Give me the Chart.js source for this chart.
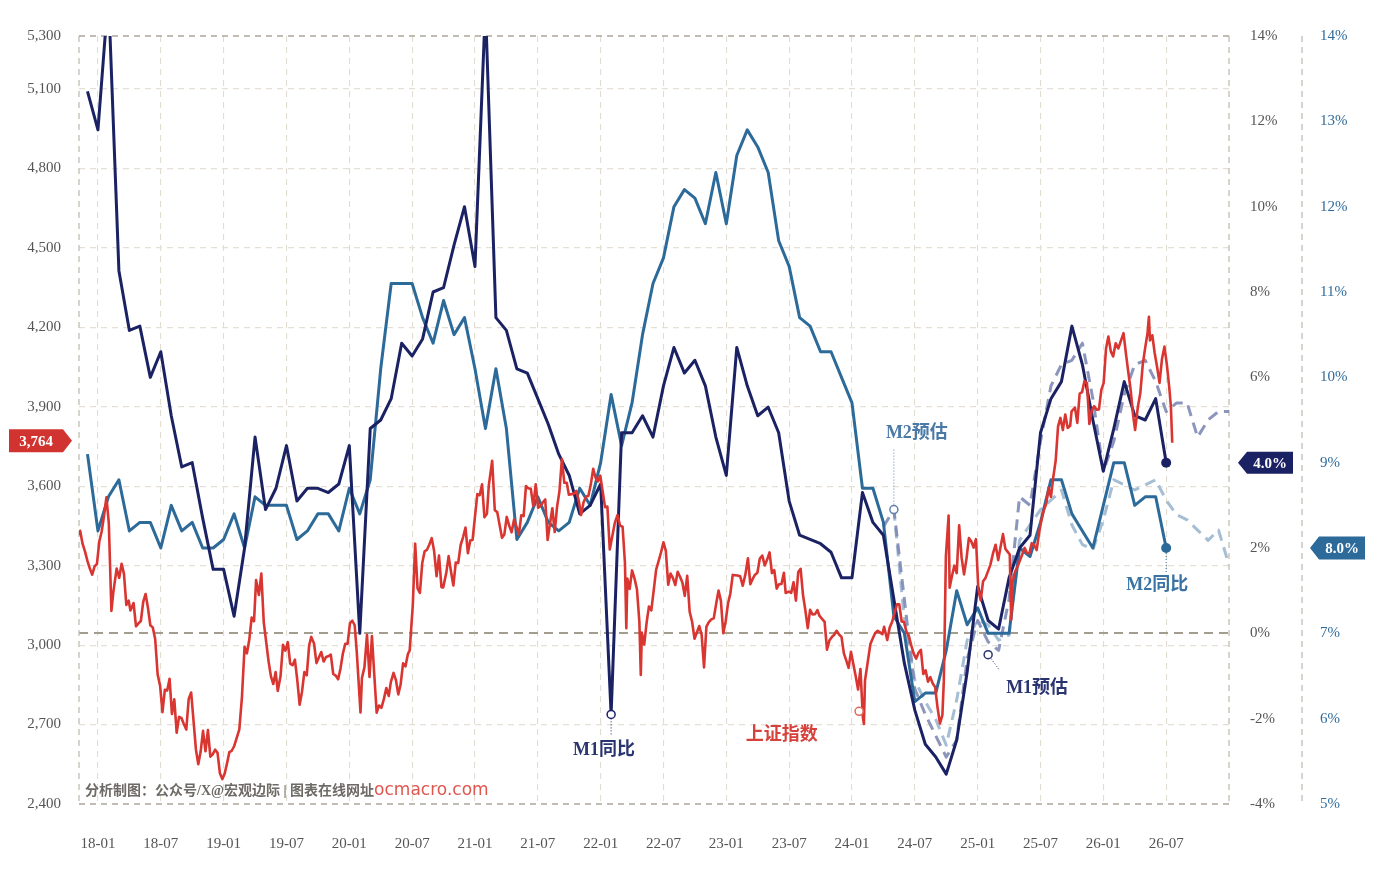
<!DOCTYPE html>
<html lang="zh">
<head>
<meta charset="UTF-8">
<title>M1、M2同比与上证指数</title>
<script src="https://cdn.jsdelivr.net/npm/chart.js"></script>
<style>
  body { margin: 0; background: #fff; }
  .wrap { position: relative; width: 1398px; height: 870px; }
</style>
</head>
<body>
<div class="wrap"><canvas id="chart" width="1398" height="870"></canvas></div>
<script>
// 月度数据为月末值，画在下个月初的位置
const mStart = '2017-11';
const m1Yoy = [
  12.7, 11.8,
  15.0, 8.5, 7.1, 7.2, 6.0, 6.6, 5.1, 3.9, 4.0, 2.7, 1.5, 1.5,
  0.4, 2.0, 4.6, 2.9, 3.4, 4.4, 3.1, 3.4, 3.4, 3.3, 3.5, 4.4,
  0.0, 4.8, 5.0, 5.5, 6.8, 6.5, 6.9, 8.0, 8.1, 9.1, 10.0, 8.6,
  14.7, 7.4, 7.1, 6.2, 6.1, 5.5, 4.9, 4.2, 3.7, 2.8, 3.0, 3.5,
  -1.9, 4.7, 4.7, 5.1, 4.6, 5.8, 6.7, 6.1, 6.4, 5.8, 4.6, 3.7,
  6.7, 5.8, 5.1, 5.3, 4.7, 3.1, 2.3, 2.2, 2.1, 1.9, 1.3, 1.3,
  3.3, 2.6, 2.3, 0.8, -0.7, -1.8, -2.6, -2.9, -3.3, -2.5, -0.9, 1.1,
  0.3, 0.1, 1.3, 2.0, 2.3, 4.7, 5.5, 5.9, 7.2, 6.3, 5.0, 3.8,
  4.8, 5.9, 5.1, 5.0, 5.5, 4.0
];
const m2Yoy = [
  9.1, 8.2,
  8.6, 8.8, 8.2, 8.3, 8.3, 8.0, 8.5, 8.2, 8.3, 8.0, 8.0, 8.1,
  8.4, 8.0, 8.6, 8.5, 8.5, 8.5, 8.1, 8.2, 8.4, 8.4, 8.2, 8.7,
  8.4, 8.8, 10.1, 11.1, 11.1, 11.1, 10.7, 10.4, 10.9, 10.5, 10.7, 10.1,
  9.4, 10.1, 9.4, 8.1, 8.3, 8.6, 8.3, 8.2, 8.3, 8.7, 8.5, 9.0,
  9.8, 9.2, 9.7, 10.5, 11.1, 11.4, 12.0, 12.2, 12.1, 11.8, 12.4, 11.8,
  12.6, 12.9, 12.7, 12.4, 11.6, 11.3, 10.7, 10.6, 10.3, 10.3, 10.0, 9.7,
  8.7, 8.7, 8.3, 7.2, 7.0, 6.2, 6.3, 6.3, 6.8, 7.5, 7.1, 7.3,
  7.0, 7.0, 7.0, 8.0, 7.9, 8.3, 8.8, 8.8, 8.4, 8.2, 8.0, 8.5,
  9.0, 9.0, 8.5, 8.6, 8.6, 8.0
];
// 预估线
const m1EstStart = '2024-03';
const m1Est = [
  2.5, 2.9, 0.8, -1.3, -1.9, -2.4, -2.9, -2.5, -0.6, 0.3,
  -0.2, -0.4, 0.8, 3.2, 3.0, 4.5, 5.8, 6.3, 6.4, 6.8, 5.5, 3.8,
  4.5, 5.6, 6.3, 6.4, 5.9, 5.2, 5.4, 5.4, 4.6, 5.0, 5.2, 5.2
];
const m2EstStart = '2024-04';
const m2Est = [
  8.45, 7.16, 6.45, 6.2, 5.99, 5.69, 6.22, 6.92, 7.16,
  7.1, 6.92, 6.98, 8.09, 8.27, 8.45, 8.56, 8.68, 8.27, 8.04, 7.98, 8.33,
  8.8, 8.74, 8.68, 8.74, 8.8, 8.56, 8.39, 8.33, 8.21, 8.09, 8.21, 7.8
];
// 上证指数（周收盘）
const shDates = [
  '2017-11-08','2017-11-10','2017-11-17','2017-11-24','2017-12-01','2017-12-08','2017-12-15','2017-12-22','2017-12-29',
  '2018-01-05','2018-01-12','2018-01-19','2018-01-26','2018-02-02','2018-02-09','2018-02-14','2018-02-23','2018-03-02',
  '2018-03-09','2018-03-16','2018-03-23','2018-03-30','2018-04-04','2018-04-13','2018-04-20','2018-04-27','2018-05-04',
  '2018-05-11','2018-05-18','2018-05-25','2018-06-01','2018-06-08','2018-06-15','2018-06-22','2018-06-29','2018-07-06',
  '2018-07-13','2018-07-20','2018-07-27','2018-08-03','2018-08-10','2018-08-17','2018-08-24','2018-08-31','2018-09-07',
  '2018-09-14','2018-09-21','2018-09-28','2018-10-12','2018-10-19','2018-10-26','2018-11-02','2018-11-09','2018-11-16',
  '2018-11-23','2018-11-30','2018-12-07','2018-12-14','2018-12-21','2018-12-28',
  '2019-01-04','2019-01-11','2019-01-18','2019-01-25','2019-02-01','2019-02-15','2019-02-22','2019-03-01','2019-03-08',
  '2019-03-15','2019-03-22','2019-03-29','2019-04-04','2019-04-12','2019-04-19','2019-04-26','2019-05-10','2019-05-17',
  '2019-05-24','2019-05-31','2019-06-06','2019-06-14','2019-06-21','2019-06-28','2019-07-05','2019-07-12','2019-07-19',
  '2019-07-26','2019-08-02','2019-08-09','2019-08-16','2019-08-23','2019-08-30','2019-09-06','2019-09-12','2019-09-20',
  '2019-09-27','2019-10-11','2019-10-18','2019-10-25','2019-11-01','2019-11-08','2019-11-15','2019-11-22','2019-11-29',
  '2019-12-06','2019-12-13','2019-12-20','2019-12-27',
  '2020-01-03','2020-01-10','2020-01-17','2020-01-23','2020-02-03','2020-02-07','2020-02-14','2020-02-21','2020-02-28',
  '2020-03-06','2020-03-13','2020-03-20','2020-03-27','2020-04-03','2020-04-10','2020-04-17','2020-04-24','2020-04-30',
  '2020-05-08','2020-05-15','2020-05-22','2020-05-29','2020-06-05','2020-06-12','2020-06-19','2020-06-24','2020-07-03',
  '2020-07-10','2020-07-17','2020-07-24','2020-07-31','2020-08-07','2020-08-14','2020-08-21','2020-08-28','2020-09-04',
  '2020-09-11','2020-09-18','2020-09-25','2020-09-30','2020-10-09','2020-10-16','2020-10-23','2020-10-30','2020-11-06',
  '2020-11-13','2020-11-20','2020-11-27','2020-12-04','2020-12-11','2020-12-18','2020-12-25','2020-12-31',
  '2021-01-08','2021-01-15','2021-01-22','2021-01-29','2021-02-05','2021-02-10','2021-02-19','2021-02-26','2021-03-05',
  '2021-03-12','2021-03-19','2021-03-26','2021-04-02','2021-04-09','2021-04-16','2021-04-23','2021-04-30','2021-05-07',
  '2021-05-14','2021-05-21','2021-05-28','2021-06-04','2021-06-11','2021-06-18','2021-06-25','2021-07-02','2021-07-09',
  '2021-07-16','2021-07-23','2021-07-30','2021-08-06','2021-08-13','2021-08-20','2021-08-27','2021-09-03','2021-09-10',
  '2021-09-17','2021-09-24','2021-09-30','2021-10-15','2021-10-22','2021-10-29','2021-11-05','2021-11-12','2021-11-19',
  '2021-11-26','2021-12-03','2021-12-10','2021-12-17','2021-12-24','2021-12-31',
  '2022-01-07','2022-01-14','2022-01-21','2022-01-28','2022-02-11','2022-02-18','2022-02-25','2022-03-04','2022-03-11',
  '2022-03-15','2022-03-18','2022-03-25','2022-04-01','2022-04-08','2022-04-15','2022-04-22','2022-04-26','2022-04-29',
  '2022-05-06','2022-05-13','2022-05-20','2022-05-27','2022-06-02','2022-06-10','2022-06-17','2022-06-24','2022-07-01',
  '2022-07-08','2022-07-15','2022-07-22','2022-07-29','2022-08-05','2022-08-12','2022-08-19','2022-08-26','2022-09-02',
  '2022-09-09','2022-09-16','2022-09-23','2022-09-30','2022-10-14','2022-10-21','2022-10-28','2022-11-04','2022-11-11',
  '2022-11-18','2022-11-25','2022-12-02','2022-12-09','2022-12-16','2022-12-23','2022-12-30',
  '2023-01-06','2023-01-13','2023-01-20','2023-02-03','2023-02-10','2023-02-17','2023-02-24','2023-03-03','2023-03-10',
  '2023-03-17','2023-03-24','2023-03-31','2023-04-07','2023-04-14','2023-04-21','2023-04-28','2023-05-05','2023-05-12',
  '2023-05-19','2023-05-26','2023-06-02','2023-06-09','2023-06-16','2023-06-21','2023-06-30','2023-07-07','2023-07-14',
  '2023-07-21','2023-07-28','2023-08-04','2023-08-11','2023-08-18','2023-08-25','2023-09-01','2023-09-08','2023-09-15',
  '2023-09-22','2023-09-28','2023-10-13','2023-10-20','2023-10-27','2023-11-03','2023-11-10','2023-11-17','2023-11-24',
  '2023-12-01','2023-12-08','2023-12-15','2023-12-22','2023-12-29',
  '2024-01-05','2024-01-12','2024-01-19','2024-01-26','2024-02-02','2024-02-05','2024-02-08','2024-02-23','2024-03-01',
  '2024-03-08','2024-03-15','2024-03-22','2024-03-29','2024-04-03','2024-04-12','2024-04-19','2024-04-26','2024-05-10',
  '2024-05-17','2024-05-24','2024-05-31','2024-06-07','2024-06-14','2024-06-21','2024-06-28','2024-07-05','2024-07-12',
  '2024-07-19','2024-07-26','2024-08-02','2024-08-09','2024-08-16','2024-08-23','2024-08-30','2024-09-06','2024-09-13',
  '2024-09-20','2024-09-24','2024-09-27','2024-09-30','2024-10-08','2024-10-11','2024-10-18','2024-10-25','2024-11-01',
  '2024-11-08','2024-11-15','2024-11-22','2024-11-29','2024-12-06','2024-12-13','2024-12-20','2024-12-27',
  '2025-01-03','2025-01-10','2025-01-17','2025-01-24','2025-02-07','2025-02-14','2025-02-21','2025-02-28','2025-03-07',
  '2025-03-14','2025-03-21','2025-03-28','2025-04-03','2025-04-07','2025-04-11','2025-04-18','2025-04-25','2025-05-09',
  '2025-05-16','2025-05-23','2025-05-30','2025-06-06','2025-06-13','2025-06-20','2025-06-27','2025-07-04','2025-07-11',
  '2025-07-18','2025-07-25','2025-08-01','2025-08-08','2025-08-15','2025-08-22','2025-08-29','2025-09-05','2025-09-12',
  '2025-09-19','2025-09-26','2025-09-30','2025-10-10','2025-10-17','2025-10-24','2025-10-31','2025-11-07','2025-11-14',
  '2025-11-21','2025-11-28','2025-12-05','2025-12-12','2025-12-19','2025-12-26',
  '2026-01-02','2026-01-09','2026-01-16','2026-01-23','2026-01-30','2026-02-06','2026-02-13','2026-02-27','2026-03-06',
  '2026-03-13','2026-03-20','2026-03-27','2026-04-02','2026-04-10','2026-04-17','2026-04-24','2026-04-30','2026-05-08',
  '2026-05-12','2026-05-15','2026-05-22','2026-05-29','2026-06-05','2026-06-12','2026-06-19','2026-06-26','2026-07-03',
  '2026-07-10','2026-07-15','2026-07-19'
];
const shClose = [
  3415, 3432, 3382, 3353, 3317, 3289, 3266, 3297, 3307,
  3391, 3429, 3488, 3558, 3462, 3129, 3199, 3289, 3254,
  3307, 3269, 3152, 3168, 3131, 3159, 3071, 3082, 3091,
  3163, 3193, 3141, 3075, 3067, 3022, 2889, 2847, 2747,
  2831, 2829, 2873, 2740, 2795, 2669, 2729, 2725, 2702,
  2681, 2797, 2821, 2606, 2550, 2598, 2676, 2599, 2679,
  2579, 2588, 2605, 2593, 2516, 2494,
  2514, 2553, 2596, 2601, 2618, 2682, 2804, 2994, 2969,
  3021, 3104, 3090, 3246, 3189, 3270, 3086, 2939, 2882,
  2853, 2898, 2827, 2882, 3001, 2979, 3011, 2930, 2924,
  2945, 2868, 2775, 2824, 2898, 2886, 2999, 3031, 3006,
  2932, 2974, 2938, 2955, 2958, 2964, 2891, 2885, 2871,
  2912, 2968, 3005, 3005,
  3083, 3092, 3075, 2976, 2746, 2876, 2917, 3039, 2880,
  3034, 2887, 2745, 2772, 2763, 2796, 2838, 2808, 2860,
  2895, 2868, 2814, 2852, 2931, 2920, 2967, 2980, 3152,
  3383, 3214, 3197, 3310, 3354, 3360, 3380, 3404, 3355,
  3260, 3338, 3219, 3218, 3272, 3336, 3278, 3225, 3312,
  3310, 3378, 3408, 3444, 3347, 3395, 3397, 3473,
  3570, 3566, 3607, 3483, 3496, 3603, 3696, 3509, 3502,
  3453, 3405, 3418, 3484, 3451, 3426, 3474, 3447, 3418,
  3490, 3487, 3601, 3592, 3590, 3525, 3607, 3519, 3525,
  3539, 3550, 3397, 3458, 3517, 3427, 3522, 3581, 3703,
  3613, 3613, 3568, 3572, 3582, 3547, 3491, 3539, 3560,
  3564, 3607, 3666, 3632, 3618, 3640,
  3580, 3521, 3523, 3361, 3462, 3491, 3451, 3447, 3309,
  3064, 3251, 3212, 3282, 3252, 3211, 3087, 2887, 3047,
  3002, 3084, 3146, 3131, 3195, 3285, 3317, 3350, 3388,
  3356, 3228, 3270, 3253, 3227, 3277, 3258, 3236, 3186,
  3262, 3126, 3088, 3024, 3072, 3038, 2916, 3070, 3087,
  3097, 3101, 3156, 3206, 3167, 3045, 3089,
  3157, 3195, 3265, 3263, 3260, 3224, 3267, 3328, 3230,
  3250, 3266, 3273, 3327, 3338, 3301, 3323, 3350, 3272,
  3283, 3213, 3230, 3231, 3273, 3197, 3202, 3197, 3237,
  3168, 3276, 3288, 3189, 3131, 3064, 3133, 3116, 3117,
  3132, 3110, 3088, 2983, 3017, 3030, 3039, 3054, 3040,
  3031, 2969, 2942, 2914, 2975,
  2929, 2882, 2832, 2910, 2730, 2702, 2866, 3004, 3027,
  3046, 3054, 3048, 3041, 3069, 3019, 3066, 3088, 3154,
  3154, 3089, 3087, 3051, 3033, 2998, 2967, 2949, 2971,
  2982, 2891, 2905, 2862, 2879, 2855, 2842, 2765, 2704,
  2736, 2863, 3088, 3336, 3489, 3217, 3261, 3300, 3272,
  3452, 3331, 3267, 3326, 3404, 3392, 3368, 3400,
  3211, 3169, 3241, 3253, 3303, 3346, 3379, 3321, 3372,
  3419, 3364, 3352, 3342, 3096, 3238, 3277, 3296, 3342,
  3367, 3348, 3347, 3385, 3377, 3359, 3424, 3473, 3510,
  3534, 3594, 3560, 3635, 3697, 3826, 3858, 3812, 3871,
  3820, 3828, 3883, 3897, 3839, 3950, 3955, 3997, 3990,
  3835, 3888, 3902, 3889, 3890, 3963,
  3990, 4120, 4165, 4110, 4090, 4140, 4120, 4178, 4100,
  4030, 3963, 3870, 3812, 3900, 3952, 4060, 4115, 4180,
  4240, 4150, 4170, 4103, 4050, 3990, 4080, 4127, 4060,
  3975, 3900, 3764
];
// 上证指数标注点
const shMarkDate = '2024-01-22', shMarkValue = 2750;
// 坐标轴刻度
const xTickLabels = ['18-01','18-07','19-01','19-07','20-01','20-07','21-01','21-07','22-01',
  '22-07','23-01','23-07','24-01','24-07','25-01','25-07','26-01','26-07'];
const leftTicks = [2400, 2700, 3000, 3300, 3600, 3900, 4200, 4500, 4800, 5100, 5300];

const NAVY = '#1b2264', STEEL = '#2c6a99', RED = '#d93531';
const EST1 = 'rgba(128,138,180,0.9)', EST2 = 'rgba(160,186,210,0.95)';

// 以 2018-01 为 0 的月序号
function monthEnd(ym, i) {
  const [y, m] = ym.split('-').map(Number);
  return (y - 2018) * 12 + (m - 1) + i + 1;
}
function datePos(s) {
  const [y, m, d] = s.split('-').map(Number);
  const days = new Date(y, m, 0).getDate();
  return (y - 2018) * 12 + (m - 1) + (d - 1) / days;
}
const xTicks = xTickLabels.map(t => datePos('20' + t + '-01'));

const m1Pts = m1Yoy.map((v, i) => ({ x: monthEnd(mStart, i), y: v }));
const m2Pts = m2Yoy.map((v, i) => ({ x: monthEnd(mStart, i), y: v }));
const m1EstPts = m1Est.map((v, i) => ({ x: monthEnd(m1EstStart, i), y: v }));
const m2EstPts = m2Est.map((v, i) => ({ x: monthEnd(m2EstStart, i), y: v }));
const shPts = shDates.map((d, i) => ({ x: datePos(d), y: shClose[i] }));

const SERIF = "'Liberation Serif', 'Noto Sans CJK SC', serif";
Chart.defaults.font.family = SERIF;
Chart.defaults.font.size = 15;

function tag(ctx, tipX, cy, w, h, dir, color, text) {
  // dir = 1 箭头朝右, -1 朝左
  ctx.save();
  ctx.fillStyle = color;
  ctx.beginPath();
  if (dir > 0) {
    const bx = tipX - 9 - w;
    ctx.moveTo(bx, cy - h / 2);
    ctx.lineTo(tipX - 9, cy - h / 2);
    ctx.lineTo(tipX, cy);
    ctx.lineTo(tipX - 9, cy + h / 2);
    ctx.lineTo(bx, cy + h / 2);
  } else {
    const bx = tipX + 9;
    ctx.moveTo(tipX, cy);
    ctx.lineTo(bx, cy - h / 2);
    ctx.lineTo(bx + w, cy - h / 2);
    ctx.lineTo(bx + w, cy + h / 2);
    ctx.lineTo(bx, cy + h / 2);
  }
  ctx.closePath();
  ctx.fill();
  ctx.fillStyle = '#fff';
  ctx.font = 'bold 15px ' + SERIF;
  ctx.textAlign = 'center';
  ctx.textBaseline = 'middle';
  const cx = dir > 0 ? tipX - 9 - w / 2 : tipX + 9 + w / 2;
  ctx.fillText(text, cx, cy + 1);
  ctx.restore();
}

function label(ctx, text, x, y, color, size) {
  ctx.save();
  ctx.fillStyle = color;
  ctx.font = 'bold ' + (size || 18) + 'px ' + SERIF;
  ctx.textAlign = 'center';
  ctx.textBaseline = 'middle';
  ctx.fillText(text, x, y);
  ctx.restore();
}

function leader(ctx, x1, y1, x2, y2, color) {
  ctx.save();
  ctx.strokeStyle = color;
  ctx.lineWidth = 1;
  ctx.setLineDash([1, 2]);
  ctx.beginPath();
  ctx.moveTo(x1, y1);
  ctx.lineTo(x2, y2);
  ctx.stroke();
  ctx.restore();
}

function ring(ctx, x, y, color, fill) {
  ctx.save();
  ctx.beginPath();
  ctx.arc(x, y, fill ? 5 : 4, 0, Math.PI * 2);
  if (fill) { ctx.fillStyle = color; ctx.fill(); }
  else { ctx.fillStyle = '#fff'; ctx.fill(); ctx.strokeStyle = color; ctx.lineWidth = 1.5; ctx.stroke(); }
  ctx.restore();
}

// 虚线边框（图区四周与 M2 轴线）
const frame = {
  id: 'frame',
  beforeDatasetsDraw(chart) {
    const { ctx, chartArea: a, scales } = chart;
    const seg = (x1, y1, x2, y2) => { ctx.beginPath(); ctx.moveTo(x1, y1); ctx.lineTo(x2, y2); ctx.stroke(); };
    ctx.save();
    ctx.setLineDash([6, 5]);
    ctx.lineWidth = 1.3;
    ctx.strokeStyle = '#c2bdb2';
    seg(a.left, a.top, a.left, a.bottom);
    seg(a.right, a.top, a.right, a.bottom);
    seg(scales.yM2.left, a.top, scales.yM2.left, a.bottom);
    ctx.strokeStyle = '#b3ada2';
    seg(a.left, a.top, a.right, a.top);
    seg(a.left, a.bottom, a.right, a.bottom);
    ctx.restore();
  }
};

const notes = {
  id: 'notes',
  afterDatasetsDraw(chart) {
    const { ctx, scales } = chart;
    const sx = scales.x, sL = scales.yIdx, s1 = scales.yM1, s2 = scales.yM2;
    const px = v => sx.getPixelForValue(v);

    // M1 同比 低点
    const lowI = m1Yoy.indexOf(Math.min(...m1Yoy.slice(0, 70)));
    const lx = px(monthEnd(mStart, lowI)), ly = s1.getPixelForValue(m1Yoy[lowI]);
    leader(ctx, lx, ly + 4, lx, ly + 22, NAVY);
    ring(ctx, lx, ly, NAVY, false);
    label(ctx, 'M1同比', lx - 7, ly + 36, '#2a3470');

    // 上证指数
    ring(ctx, px(datePos(shMarkDate)), sL.getPixelForValue(shMarkValue), '#e06a5e', false);
    label(ctx, '上证指数', px(datePos('2023-06-10')), sL.getPixelForValue(2660), '#d6413b');

    // M2 预估
    const e2x = px(m2EstPts[0].x), e2y = s2.getPixelForValue(m2Est[0]);
    leader(ctx, e2x, e2y - 5, e2x, e2y - 62, '#5e88b0');
    ring(ctx, e2x, e2y, '#5e7fae', false);
    label(ctx, 'M2预估', e2x + 23, e2y - 76, '#4c7aa6');

    // M1 预估
    const e1i = 10;
    const e1x = px(m1EstPts[e1i].x), e1y = s1.getPixelForValue(m1Est[e1i] - 0.3);
    leader(ctx, e1x + 3, e1y + 4, e1x + 11, e1y + 15, '#2a3470');
    ring(ctx, e1x, e1y, '#2a3470', false);
    label(ctx, 'M1预估', e1x + 49, e1y + 34, '#2a3470');

    // 末端点
    const n = m1Yoy.length - 1;
    const ex = px(monthEnd(mStart, n));
    ring(ctx, ex, s1.getPixelForValue(m1Yoy[n]), NAVY, true);
    const ey2 = s2.getPixelForValue(m2Yoy[n]);
    leader(ctx, ex, ey2 + 5, ex, ey2 + 25, STEEL);
    ring(ctx, ex, ey2, STEEL, true);
    label(ctx, 'M2同比', ex - 9, ey2 + 37, '#3a73a3');

    // 最新值标签
    const last = shClose[shClose.length - 1];
    tag(ctx, 72, sL.getPixelForValue(last) - 2, 54, 23, 1, '#d13430', last.toLocaleString('en-US'));
    tag(ctx, 1238, s1.getPixelForValue(m1Yoy[n]), 46, 22, -1, NAVY, m1Yoy[n].toFixed(1) + '%');
    tag(ctx, 1310, s2.getPixelForValue(m2Yoy[n]), 46, 23, -1, STEEL, m2Yoy[n].toFixed(1) + '%');

    // 水印
    ctx.save();
    ctx.textBaseline = 'alphabetic';
    ctx.textAlign = 'left';
    ctx.font = 'bold 14px ' + SERIF;
    ctx.fillStyle = '#6e6a66';
    const wm = '分析制图：公众号/X@宏观边际 | 图表在线网址';
    ctx.fillText(wm, 85, 795);
    const w = ctx.measureText(wm).width;
    ctx.font = "17px 'DejaVu Sans', sans-serif";
    ctx.fillStyle = '#e0564f';
    ctx.fillText('ocmacro.com', 85 + w, 795);
    ctx.restore();
  }
};

const gridDash = [6, 5];
new Chart(document.getElementById('chart'), {
  type: 'line',
  data: {
    datasets: [
      { label: '上证指数', data: shPts, yAxisID: 'yIdx', borderColor: RED, borderWidth: 2.6 },
      { label: 'M1同比', data: m1Pts, yAxisID: 'yM1', borderColor: NAVY, borderWidth: 3 },
      { label: 'M2同比', data: m2Pts, yAxisID: 'yM2', borderColor: STEEL, borderWidth: 3 },
      { label: 'M1预估', data: m1EstPts, yAxisID: 'yM1', borderColor: EST1, borderWidth: 3, borderDash: [11, 7] },
      { label: 'M2预估', data: m2EstPts, yAxisID: 'yM2', borderColor: EST2, borderWidth: 3, borderDash: [11, 7] }
    ]
  },
  options: {
    responsive: false,
    animation: false,
    layout: { padding: { top: 36, left: 0, right: 0, bottom: 0 } },
    elements: { point: { radius: 0 }, line: { tension: 0, borderJoinStyle: 'round' } },
    plugins: { legend: { display: false }, tooltip: { enabled: false } },
    scales: {
      x: {
        type: 'linear',
        min: -1.81, max: 108,
        afterBuildTicks: s => { s.ticks = xTicks.map(v => ({ value: v })); },
        afterFit: s => { s.height = 66; },
        ticks: {
          padding: 31, color: '#555', maxRotation: 0, autoSkip: false,
          callback: (v) => xTickLabels[xTicks.findIndex(t => Math.abs(t - v) < 1e-6)]
        },
        grid: { color: '#e2ddd1', lineWidth: 1.1, drawTicks: false },
        border: { display: false, dash: gridDash }
      },
      yIdx: {
        position: 'left',
        min: 2400, max: 5300,
        afterBuildTicks: s => { s.ticks = leftTicks.map(v => ({ value: v })); },
        afterFit: s => { s.width = 79; },
        ticks: { padding: 18, color: '#555', callback: v => v.toLocaleString('en-US') },
        grid: { drawTicks: false, color: '#e5e0d5', lineWidth: 1.2 },
        border: { display: false, dash: gridDash }
      },
      yM1: {
        position: 'right', weight: 0,
        min: -4, max: 14,
        afterFit: s => { s.width = 73; },
        ticks: { stepSize: 2, padding: 21, color: '#555', callback: v => v + '%' },
        grid: {
          drawTicks: false,
          color: c => c.tick && c.tick.value === 0 ? '#a39d90' : 'rgba(0,0,0,0)',
          lineWidth: 2
        },
        border: { display: false, dash: [9, 6] }
      },
      yM2: {
        position: 'right', weight: 1,
        min: 5, max: 14,
        afterFit: s => { s.width = 96; },
        ticks: { stepSize: 1, padding: 18, color: '#2f6c9c', callback: v => v + '%' },
        grid: { display: false, drawTicks: false },
        border: { display: false }
      }
    }
  },
  plugins: [frame, notes]
});
</script>
</body>
</html>
